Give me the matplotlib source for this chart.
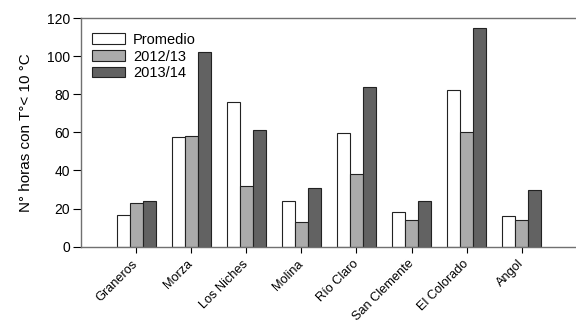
import matplotlib
matplotlib.use("Agg")
import matplotlib.pyplot as plt
import numpy as np

categories = ["Graneros", "Morza", "Los Niches", "Molina", "Río Claro",
              "San Clemente", "El Colorado", "Angol"]
promedio = [16.5, 57.5, 76, 24, 59.5, 18, 82, 16]
s2012_13 = [23, 58, 32, 13, 38, 14, 60, 14]
s2013_14 = [24, 102, 61, 31, 84, 24, 115, 30]
series_labels = ["Promedio", "2012/13", "2013/14"]
yticks = [0, 20, 40, 60, 80, 100, 120]

plt.rcParams['font.family'] = ['Liberation Sans', 'DejaVu Sans']

fig = plt.figure(figsize=(5.76, 3.22), dpi=100)
ax = fig.add_axes([0.1406, 0.2339, 0.859, 0.7101])

x = np.arange(len(categories))
w = 0.235
colors = ["#ffffff", "#ababab", "#626262"]
for i, (vals, lab, c) in enumerate(zip([promedio, s2012_13, s2013_14], series_labels, colors)):
    ax.bar(x + (i - 1) * w, vals, width=w, color=c, edgecolor="#222222",
           linewidth=0.8, label=lab)

ax.set_xlim(-1, 7.98)
ax.set_ylim(0, 120)
ax.set_yticks(yticks)
ax.set_xticks(x)
ax.set_xticklabels(categories, rotation=45, ha="right", va="center",
                   rotation_mode="anchor", fontsize=9.2)
ax.tick_params(axis="y", labelsize=10, direction="out", length=6, width=0.8, pad=2)
ax.tick_params(axis="x", direction="out", length=4, width=0.8, pad=7)
ax.set_ylabel("N° horas con T°< 10 °C", fontsize=11, labelpad=10)

for s in ["left", "bottom", "top"]:
    ax.spines[s].set_color("#707070")
    ax.spines[s].set_linewidth(1.0)
ax.spines["right"].set_visible(False)

ax.legend(loc="upper left", bbox_to_anchor=(-0.008, 1.0), frameon=False,
          fontsize=10.5, handlelength=2.3, handleheight=0.7,
          handletextpad=0.55, labelspacing=0.2, borderaxespad=0.7,
          borderpad=0.3)

fig.savefig("out.png", dpi=100)
